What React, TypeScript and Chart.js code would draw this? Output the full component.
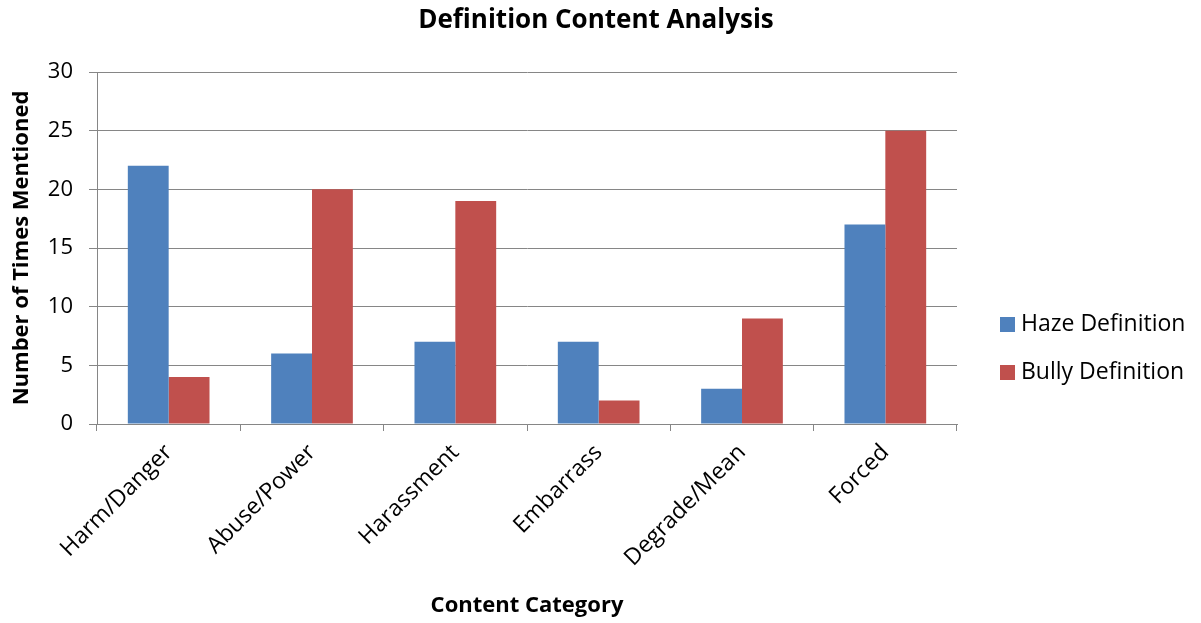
import React, { useEffect, useRef } from "react";
import { Chart, registerables } from "chart.js";

Chart.register(...registerables);

const chartTitle = "Definition Content Analysis";
const categories = ["Harm/Danger", "Abuse/Power", "Harassment", "Embarrass", "Degrade/Mean", "Forced"];
const hazeValues = [22, 6, 7, 7, 3, 17];
const bullyValues = [4, 20, 19, 2, 9, 25];
const seriesNames = ["Haze Definition", "Bully Definition"];
const seriesColors = ["#4F81BD", "#C0504D"];

const FONT = "'Open Sans', 'Liberation Sans', sans-serif";
const GRID = "#868686";

// Title centred over the whole canvas, plus a vertical legend to the right of the plot.
const decorations = {
  id: "decorations",
  afterDraw(chart: any) {
    const ctx = chart.ctx;
    ctx.save();
    ctx.fillStyle = "#000";
    ctx.font = `bold 26px ${FONT}`;
    ctx.textAlign = "center";
    ctx.textBaseline = "middle";
    ctx.fillText(chartTitle, 596, 21);

    ctx.font = `23px ${FONT}`;
    ctx.textAlign = "left";
    chart.data.datasets.forEach((ds: any, i: number) => {
      const cy = 324 + i * 48;
      ctx.fillStyle = ds.backgroundColor;
      ctx.fillRect(1000, cy - 7, 15, 15);
      ctx.fillStyle = "#000";
      ctx.fillText(ds.label, 1021, cy);
    });
    ctx.restore();
  },
};

export default function App() {
  const ref = useRef<HTMLCanvasElement>(null);

  useEffect(() => {
    if (!ref.current) return;
    const chart = new Chart(ref.current, {
      type: "bar",
      data: {
        labels: categories,
        datasets: [
          { label: seriesNames[0], data: hazeValues, backgroundColor: seriesColors[0] },
          { label: seriesNames[1], data: bullyValues, backgroundColor: seriesColors[1] },
        ],
      },
      options: {
        responsive: false,
        animation: false,
        layout: { padding: { left: 0, right: 244, top: 72, bottom: 0 } },
        datasets: {
          bar: { categoryPercentage: 0.57, barPercentage: 1.0 },
        },
        plugins: {
          legend: { display: false },
          tooltip: { enabled: false },
          title: { display: false },
        },
        scales: {
          x: {
            grid: {
              offset: true,
              drawOnChartArea: false,
              drawTicks: true,
              tickLength: 7,
              color: GRID,
            },
            border: { color: GRID, width: 1 },
            ticks: {
              color: "#000",
              font: { family: FONT, size: 23 },
              minRotation: 45,
              maxRotation: 45,
              padding: 8,
            },
            title: {
              display: true,
              text: "Content Category",
              color: "#000",
              font: { family: FONT, size: 22, weight: "bold" },
              padding: { top: 0, bottom: 4 },
            },
            afterFit: (s: any) => {
              s.height = 199;
            },
          },
          y: {
            min: 0,
            max: 30,
            ticks: {
              stepSize: 5,
              color: "#000",
              font: { family: FONT, size: 22 },
              padding: 16,
            },
            grid: { color: GRID, tickLength: 8 },
            border: { color: GRID, width: 1 },
            title: {
              display: true,
              text: "Number of Times Mentioned",
              color: "#000",
              font: { family: FONT, size: 22, weight: "bold" },
              padding: { top: 9, bottom: 0 },
            },
            afterFit: (s: any) => {
              s.width = 97;
            },
          },
        },
      },
      plugins: [decorations],
    } as any);
    return () => chart.destroy();
  }, []);

  return (
    <div style={{ position: "fixed", left: 0, top: 0, width: 1201, height: 623, background: "#fff" }}>
      <canvas ref={ref} width={1201} height={623} />
    </div>
  );
}
